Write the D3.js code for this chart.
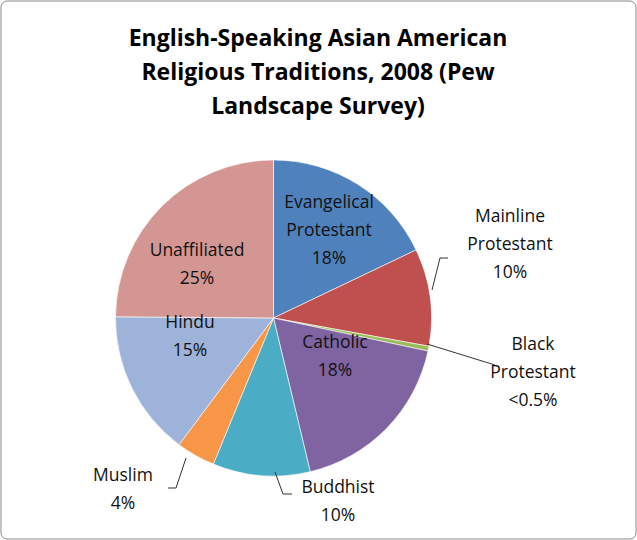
<!DOCTYPE html>
<html><head><meta charset="utf-8">
<script src="https://cdn.jsdelivr.net/npm/d3@7"></script>
<style>body{margin:0;background:#fff}text{font-family:"Open Sans",Lato,sans-serif}</style>
</head><body><div id="chart"></div>
<script>
const categories = ['Evangelical Protestant','Mainline Protestant','Black Protestant','Catholic','Buddhist','Muslim','Hindu','Unaffiliated'];
const values = [18, 10, 0.5, 18, 10, 4, 15, 25];
const valueLabels = ['18%','10%','<0.5%','18%','10%','4%','15%','25%'];
const labelLines = [['Evangelical','Protestant'],['Mainline','Protestant'],['Black','Protestant'],['Catholic'],['Buddhist'],['Muslim'],['Hindu'],['Unaffiliated']];
const colors = ['#4F81BD','#C0504D','#9BBB59','#8064A2','#4BACC6','#F79646','#9DB3DA','#D49693'];

// label placement: inside labels at given offset from centroid, outside with leader
const layout = [
  {x:329,y:208},
  {x:510,y:222,line:[[432,290],[440,258],[448,258]]},
  {x:533,y:350,line:[[427,344],[495,365]]},
  {x:335,y:348},
  {x:338,y:493,line:[[275,472],[283,494],[292,494]]},
  {x:123,y:481,line:[[186,458],[176,488],[168,488]]},
  {x:190,y:328},
  {x:197,y:256}
];

const W=637,H=540,cx=273.5,cy=318,r=158;
const svg=d3.select('#chart').append('svg').attr('width',W).attr('height',H);
svg.append('rect').attr('x',1).attr('y',1).attr('width',W-2).attr('height',H-2).attr('rx',6)
  .attr('fill','#fff').attr('stroke','#888');

['English-Speaking Asian American','Religious Traditions, 2008 (Pew','Landscape Survey)'].forEach((t,i)=>
  svg.append('text').attr('x',318).attr('y',46+i*34).attr('text-anchor','middle')
    .attr('font-size',23).attr('font-weight','bold').text(t));

const pie=d3.pie().sort(null).value(d=>d)(values);
const arc=d3.arc().innerRadius(0).outerRadius(r);
const g=svg.append('g').attr('transform',`translate(${cx},${cy})`);
g.selectAll('path').data(pie).enter().append('path').attr('d',arc)
  .attr('fill',(d,i)=>colors[i]).attr('stroke','#fff').attr('stroke-width',0.6);

layout.forEach((p,i)=>{
  if(p.line) svg.append('path').attr('d',d3.line()(p.line)).attr('fill','none').attr('stroke','#333').attr('stroke-width',1);
  const lines=labelLines[i].concat([valueLabels[i]]);
  const t=svg.append('text').attr('text-anchor','middle').attr('font-size',17.5).attr('fill','#111');
  lines.forEach((l,j)=>t.append('tspan').attr('x',p.x).attr('y',p.y+j*28).text(l));
});
</script></body></html>
